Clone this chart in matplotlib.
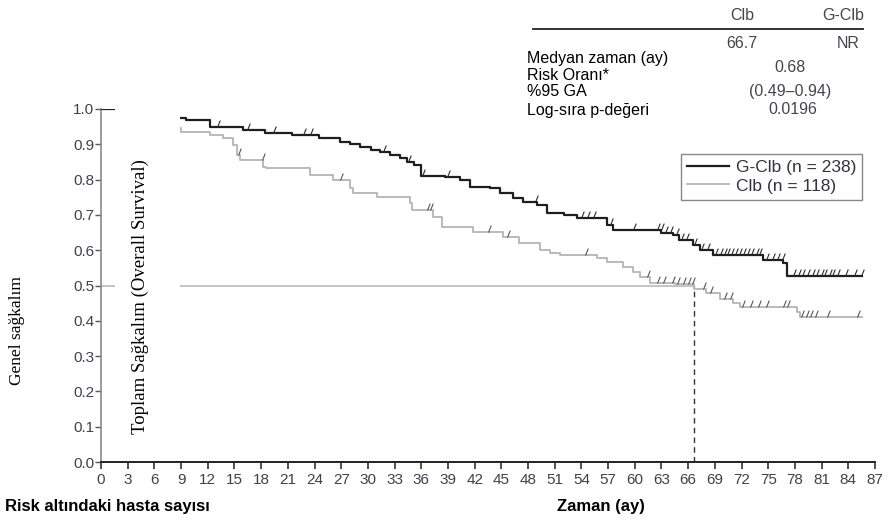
import numpy as np
import matplotlib
matplotlib.use("Agg")
from matplotlib import pyplot as plt
from matplotlib.path import Path
from matplotlib.patches import Rectangle
from matplotlib.lines import Line2D

# Kaplan-Meier adim noktalari (ay, sagkalim orani)
gclb_t = [0, 3.5, 6, 9.5, 12.2, 16.0, 18.4, 21.5, 24.5, 26.9, 28.0, 29.1, 30.3,
          31.4, 32.5, 33.6, 34.4, 35.2, 36.0, 38.7, 40.4, 41.5, 43.7, 44.8, 46.3,
          47.4, 49.0, 50.1, 52.0, 53.5, 56.9, 57.5, 63.0, 64.3, 65.0, 66.5, 67.3,
          68.8, 74.4, 76.7, 77.1, 85.5]
gclb_s = [1.0, 0.985, 0.975, 0.969, 0.949, 0.94, 0.932, 0.925, 0.918, 0.906, 0.9,
          0.892, 0.885, 0.878, 0.87, 0.86, 0.85, 0.84, 0.81, 0.807, 0.80, 0.779,
          0.776, 0.762, 0.748, 0.737, 0.728, 0.705, 0.70, 0.691, 0.671, 0.657,
          0.65, 0.643, 0.63, 0.615, 0.60, 0.586, 0.572, 0.563, 0.527, 0.527]

clb_t = [0, 2, 4, 6.5, 9.0, 12.2, 13.7, 14.8, 15.3, 15.6, 18.2, 18.6, 23.5, 26.1,
         28.0, 28.3, 31.0, 34.7, 35.0, 37.3, 38.3, 41.8, 45.2, 47.0, 49.3, 50.5,
         51.6, 55.7, 56.9, 58.7, 59.8, 60.6, 61.7, 64.5, 66.7, 68.0, 69.6, 71.0,
         71.8, 78.2, 78.6, 85.5]
clb_s = [1.0, 0.98, 0.96, 0.945, 0.935, 0.926, 0.918, 0.898, 0.87, 0.855, 0.836,
         0.833, 0.813, 0.799, 0.776, 0.762, 0.751, 0.734, 0.714, 0.694, 0.666,
         0.652, 0.637, 0.62, 0.60, 0.593, 0.586, 0.578, 0.567, 0.553, 0.538,
         0.524, 0.508, 0.503, 0.49, 0.478, 0.463, 0.45, 0.44, 0.425, 0.41, 0.41]

# sansurlenmis gozlemler (ay)
gclb_cens = [0.3, 0.7, 1.1, 13.0, 16.4, 19.3, 22.7, 23.5, 31.7, 34.5, 36.1, 38.9,
             48.8, 54.0, 54.6, 55.3, 57.2, 59.8, 62.5, 62.9, 63.4, 64.0, 64.6,
             65.2, 65.8, 66.6, 67.4, 68.1, 69.0, 69.6, 70.0, 70.4, 70.8, 71.3,
             71.7, 72.2, 72.6, 73.1, 73.6, 74.0, 74.8, 75.4, 76.0, 76.6, 77.8,
             78.3, 78.8, 79.4, 79.9, 80.4, 80.9, 81.3, 81.8, 82.2, 82.7, 83.6,
             84.6, 85.4]
clb_cens = [0.5, 0.9, 15.4, 18.1, 26.9, 36.6, 37.0, 43.5, 45.6, 54.4, 61.4, 62.5,
            63.2, 64.2, 64.8, 65.4, 66.0, 66.4, 67.7, 68.5, 70.0, 70.7, 72.0,
            72.9, 73.8, 74.7, 76.7, 77.1, 78.7, 79.2, 79.7, 80.2, 81.6, 85.0]

median_clb = 66.7
x_ticks = np.arange(0, 88, 3)
y_ticks = np.arange(0, 1.01, 0.1)

W, H = 889, 522


def fx(px):
    return px / W


def fy(py):
    return 1 - py / H


def step_at(t, s, times):
    idx = np.searchsorted(t, times, side="right") - 1
    return np.asarray(s)[idx]


fig = plt.figure(figsize=(W / 100, H / 100), dpi=100)
ax = fig.add_axes([fx(101), fy(462), fx(875) - fx(101), fy(109) - fy(462)])

tick_mark = Path([(0, 0), (0.4, 1)], [Path.MOVETO, Path.LINETO])

ax.plot(gclb_t, gclb_s, drawstyle="steps-post", color="#1e1e1e", lw=1.6,
        label="G-Clb (n = 238)", zorder=3)
ax.plot(clb_t, clb_s, drawstyle="steps-post", color="#b4b4b4", lw=1.3,
        label="Clb (n = 118)", zorder=2)
ax.plot(gclb_cens, step_at(gclb_t, gclb_s, gclb_cens), ls="none", marker=tick_mark,
        ms=10, mew=0.8, mfc="none", mec="#2a2a2a", zorder=3)
ax.plot(clb_cens, step_at(clb_t, clb_s, clb_cens), ls="none", marker=tick_mark,
        ms=10, mew=0.8, mfc="none", mec="#555555", zorder=2)

# medyan cizgileri
ax.plot([0, median_clb], [0.5, 0.5], color="#b4b4b4", lw=1.1, zorder=1)
ax.plot([median_clb, median_clb], [0, 0.5], color="#333333", lw=1.0,
        ls=(0, (4, 3)), zorder=1)

# ilk aylarin ustundeki beyaz alan
ax.add_patch(Rectangle((1.6, 0.015), 8.9 - 1.6, 1.0, facecolor="white",
                       edgecolor="none", zorder=5, clip_on=False))

ax.set_xlim(0, 87)
ax.set_ylim(0, 1.0)
ax.set_xticks(x_ticks)
ax.set_yticks(y_ticks)
ax.set_yticklabels([f"{v:.1f}" for v in y_ticks])
ax.spines["top"].set_visible(False)
ax.spines["right"].set_visible(False)
ax.spines["left"].set_color("#8a8a8a")
ax.spines["left"].set_linewidth(1.2)
ax.spines["bottom"].set_color("#222222")
ax.spines["bottom"].set_linewidth(1.4)
ax.tick_params(axis="x", length=5, width=1.2, color="#333333", pad=3,
               labelsize=11, labelcolor="#404050")
ax.tick_params(axis="y", length=4, width=1.0, color="#555555", pad=1,
               labelsize=11, labelcolor="#404050")
for lab in ax.get_xticklabels() + ax.get_yticklabels():
    lab.set_family("Liberation Sans")

leg = ax.legend(loc="upper right", bbox_to_anchor=(fx(871), fy(145)),
                bbox_transform=fig.transFigure, fancybox=False,
                edgecolor="#888888", framealpha=1,
                prop={"family": "Liberation Sans", "size": 12.5},
                handlelength=2.4, handletextpad=0.4, borderpad=0.35,
                labelspacing=0.2)
leg.get_frame().set_linewidth(1.0)
for txt in leg.get_texts():
    txt.set_color("#333340")

# eksen basliklari
fig.text(fx(17), fy(331), "Genel sağkalım", rotation=90, ha="center",
         va="center", family="Liberation Serif", fontsize=12.5)
fig.text(fx(140), fy(297), "Toplam Sağkalım (Overall Survival)", rotation=90,
         ha="center", va="center", family="Liberation Serif", fontsize=13.5,
         zorder=10)
fig.text(fx(5), fy(506), "Risk altındaki hasta sayısı", ha="left", va="center",
         family="Liberation Sans", fontsize=12, fontweight="bold")
fig.text(fx(601), fy(506), "Zaman (ay)", ha="center", va="center",
         family="Liberation Sans", fontsize=12, fontweight="bold")

# ozet tablosu
fig.add_artist(Line2D([fx(533), fx(863)], [fy(29), fy(29)], color="#222222",
                      lw=1.3, transform=fig.transFigure))
tbl = {"family": "Liberation Sans", "fontsize": 11.5}
fig.text(fx(742), fy(15), "Clb", ha="center", va="center", color="#444450", **tbl)
fig.text(fx(843), fy(15), "G-Clb", ha="center", va="center", color="#444450", **tbl)
fig.text(fx(742), fy(43), "66.7", ha="center", va="center", color="#444450", **tbl)
fig.text(fx(848), fy(43), "NR", ha="center", va="center", color="#444450", **tbl)
fig.text(fx(790), fy(68), "0.68", ha="center", va="center", color="#444450", **tbl)
fig.text(fx(790), fy(92), "(0.49–0.94)", ha="center", va="center", color="#444450", **tbl)
fig.text(fx(793), fy(110), "0.0196", ha="center", va="center", color="#444450", **tbl)
for py, label in [(58, "Medyan zaman (ay)"), (75, "Risk Oranı*"),
                  (92, "%95 GA"), (110, "Log-sıra p-değeri")]:
    fig.text(fx(527), fy(py), label, ha="left", va="center", color="black", **tbl)

fig.savefig("out.png", dpi=100)
